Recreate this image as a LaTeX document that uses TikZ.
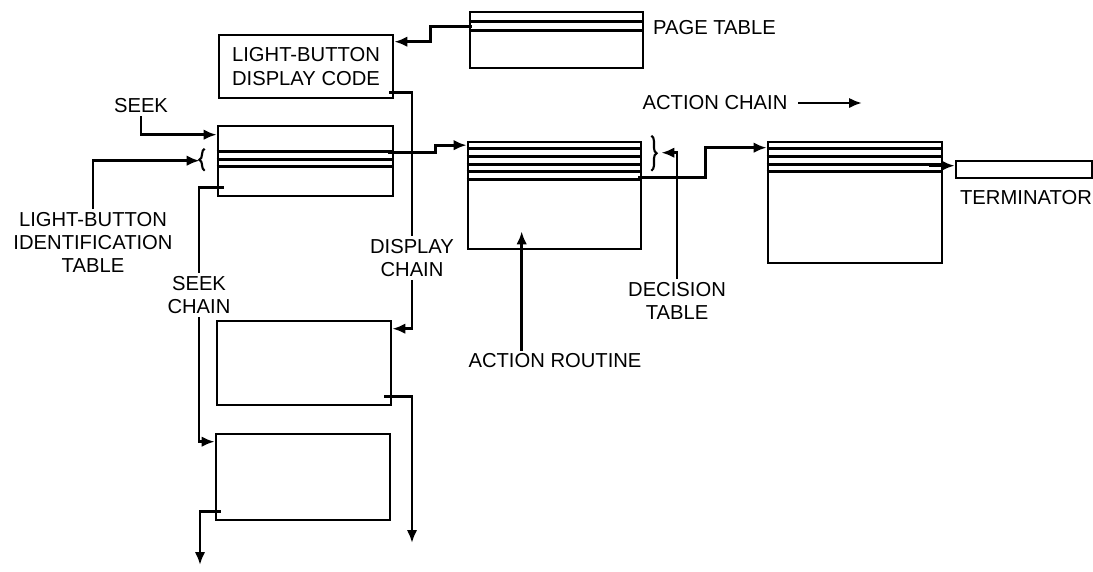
\documentclass[tikz,border=0pt]{standalone}
\usepackage{fontspec}
\setmainfont{Liberation Sans}
\usetikzlibrary{arrows.meta,positioning,calc,decorations.pathreplacing}

\begin{document}
\begin{tikzpicture}[>={Latex[length=2.6mm,width=2.1mm]},line width=1.5pt,
  box/.style={draw,inner sep=0pt},
  lbl/.style={inner sep=1pt,align=center,font=\fontsize{11.5}{13.3}\selectfont},
  brc/.style={decorate,decoration={brace,amplitude=3pt},line width=1.2pt}]
\useasboundingbox (0,0) rectangle (21.86,-11.42);

% tables
\node[box,minimum width=3.46cm,minimum height=1.12cm] (pt) at (11.13,-0.80) {};
\node[box,lbl,minimum width=3.48cm,minimum height=1.26cm] (dc) at (6.12,-1.33) {LIGHT-BUTTON\\DISPLAY CODE};
\node[box,minimum width=3.5cm,minimum height=1.4cm] (lb) at (6.11,-3.22) {};
\node[box,minimum width=3.48cm,minimum height=1.68cm] (d2) at (6.08,-7.26) {};
\node[box,minimum width=3.48cm,minimum height=1.72cm] (s2) at (6.06,-9.54) {};
\node[box,minimum width=3.46cm,minimum height=2.14cm] (ar) at (11.09,-3.91) {};
\node[box,minimum width=3.48cm,minimum height=2.42cm] (nx) at (17.10,-4.05) {};
\node[box,minimum width=2.72cm,minimum height=0.34cm] (term) at (20.48,-3.39) {};

% entries
\foreach \b/\d in {pt/0.22,pt/0.40,lb/0.54,lb/0.70,lb/0.84,
                   ar/0.16,ar/0.31,ar/0.47,ar/0.62,ar/0.78,
                   nx/0.16,nx/0.32,nx/0.48,nx/0.62}
  \draw ($(\b.north west)+(0,-\d)$) -- ($(\b.north east)+(0,-\d)$);

% labels
\node[lbl,anchor=west] (ptlab) at (13.0,-0.56) {PAGE TABLE};
\node[lbl] (seek) at (2.82,-2.12) {SEEK};
\node[lbl] (lbid) at (1.86,-4.85) {LIGHT-BUTTON\\IDENTIFICATION\\TABLE};
\node[lbl] (sclab) at (3.98,-5.9) {SEEK\\CHAIN};
\node[lbl] (dclab) at (8.24,-5.16) {DISPLAY\\CHAIN};
\node[lbl] (arlab) at (11.1,-7.22) {ACTION ROUTINE};
\node[lbl] (dtlab) at (13.54,-6.02) {DECISION\\TABLE};
\node[lbl] (acl) at (14.3,-2.06) {ACTION CHAIN};
\node[lbl] (termlab) at (20.52,-3.95) {TERMINATOR};

% braces
\draw[brc] ($(lb.north west)+(-0.24,-0.92)$) -- ($(lb.north west)+(-0.24,-0.48)$);
\draw[brc] ($(ar.north east)+(0.18,0.1)$) -- ($(ar.north east)+(0.18,-0.6)$);
\coordinate (lbbr) at ($(lb.north west)+(-0.34,-0.72)$);
\coordinate (dttip) at ($(ar.north east)+(0.38,-0.24)$);
\coordinate (artip) at ($(ar.south west)+(1.1,0.38)$);
\coordinate (nxout) at ($(nx.north east)+(-0.28,-0.5)$);
\coordinate (dend) at (8.24,-10.86);
\coordinate (send) at (4.0,-11.3);
\coordinate (acend) at (17.24,-2.06);

% chains
\draw[->] ($(pt.north west)+(0.06,-0.32)$) -- ++(-0.82,0) |- ($(dc.north east)+(0,-0.16)$);
\draw ($(dc.south east)+(-0.1,0.14)$) -| (dclab.north);
\draw[->] (dclab.south) |- ($(d2.north east)+(0,-0.18)$);
\draw[->] ($(d2.south east)+(-0.16,0.2)$) -| (dend);
\draw[->] (seek.south) |- ($(lb.north west)+(0,-0.2)$);
\draw[->] (lbid.north) |- (lbbr);
\draw ($(lb.south west)+(0.14,0.2)$) -| (sclab.north);
\draw[->] (sclab.south) |- ($(s2.north west)+(0,-0.18)$);
\draw[->] ($(s2.south west)+(0.12,0.2)$) -| (send);
\draw[->] ($(lb.north east)+(-0.12,-0.56)$) -- ++(0.94,0) |- ($(ar.north west)+(0,-0.09)$);
\draw[->] (arlab.north -| artip) -- (artip);
\draw[->] (dtlab.north) |- (dttip);
\draw[->] ($(ar.north east)+(-0.08,-0.74)$) -- ++(1.34,0) |- ($(nx.north west)+(0,-0.14)$);
\draw[->] (nxout) -- (nxout -| term.west);
\draw[->] (acl.east) ++(0.15,0) -- (acend);
\end{tikzpicture}
\end{document}
